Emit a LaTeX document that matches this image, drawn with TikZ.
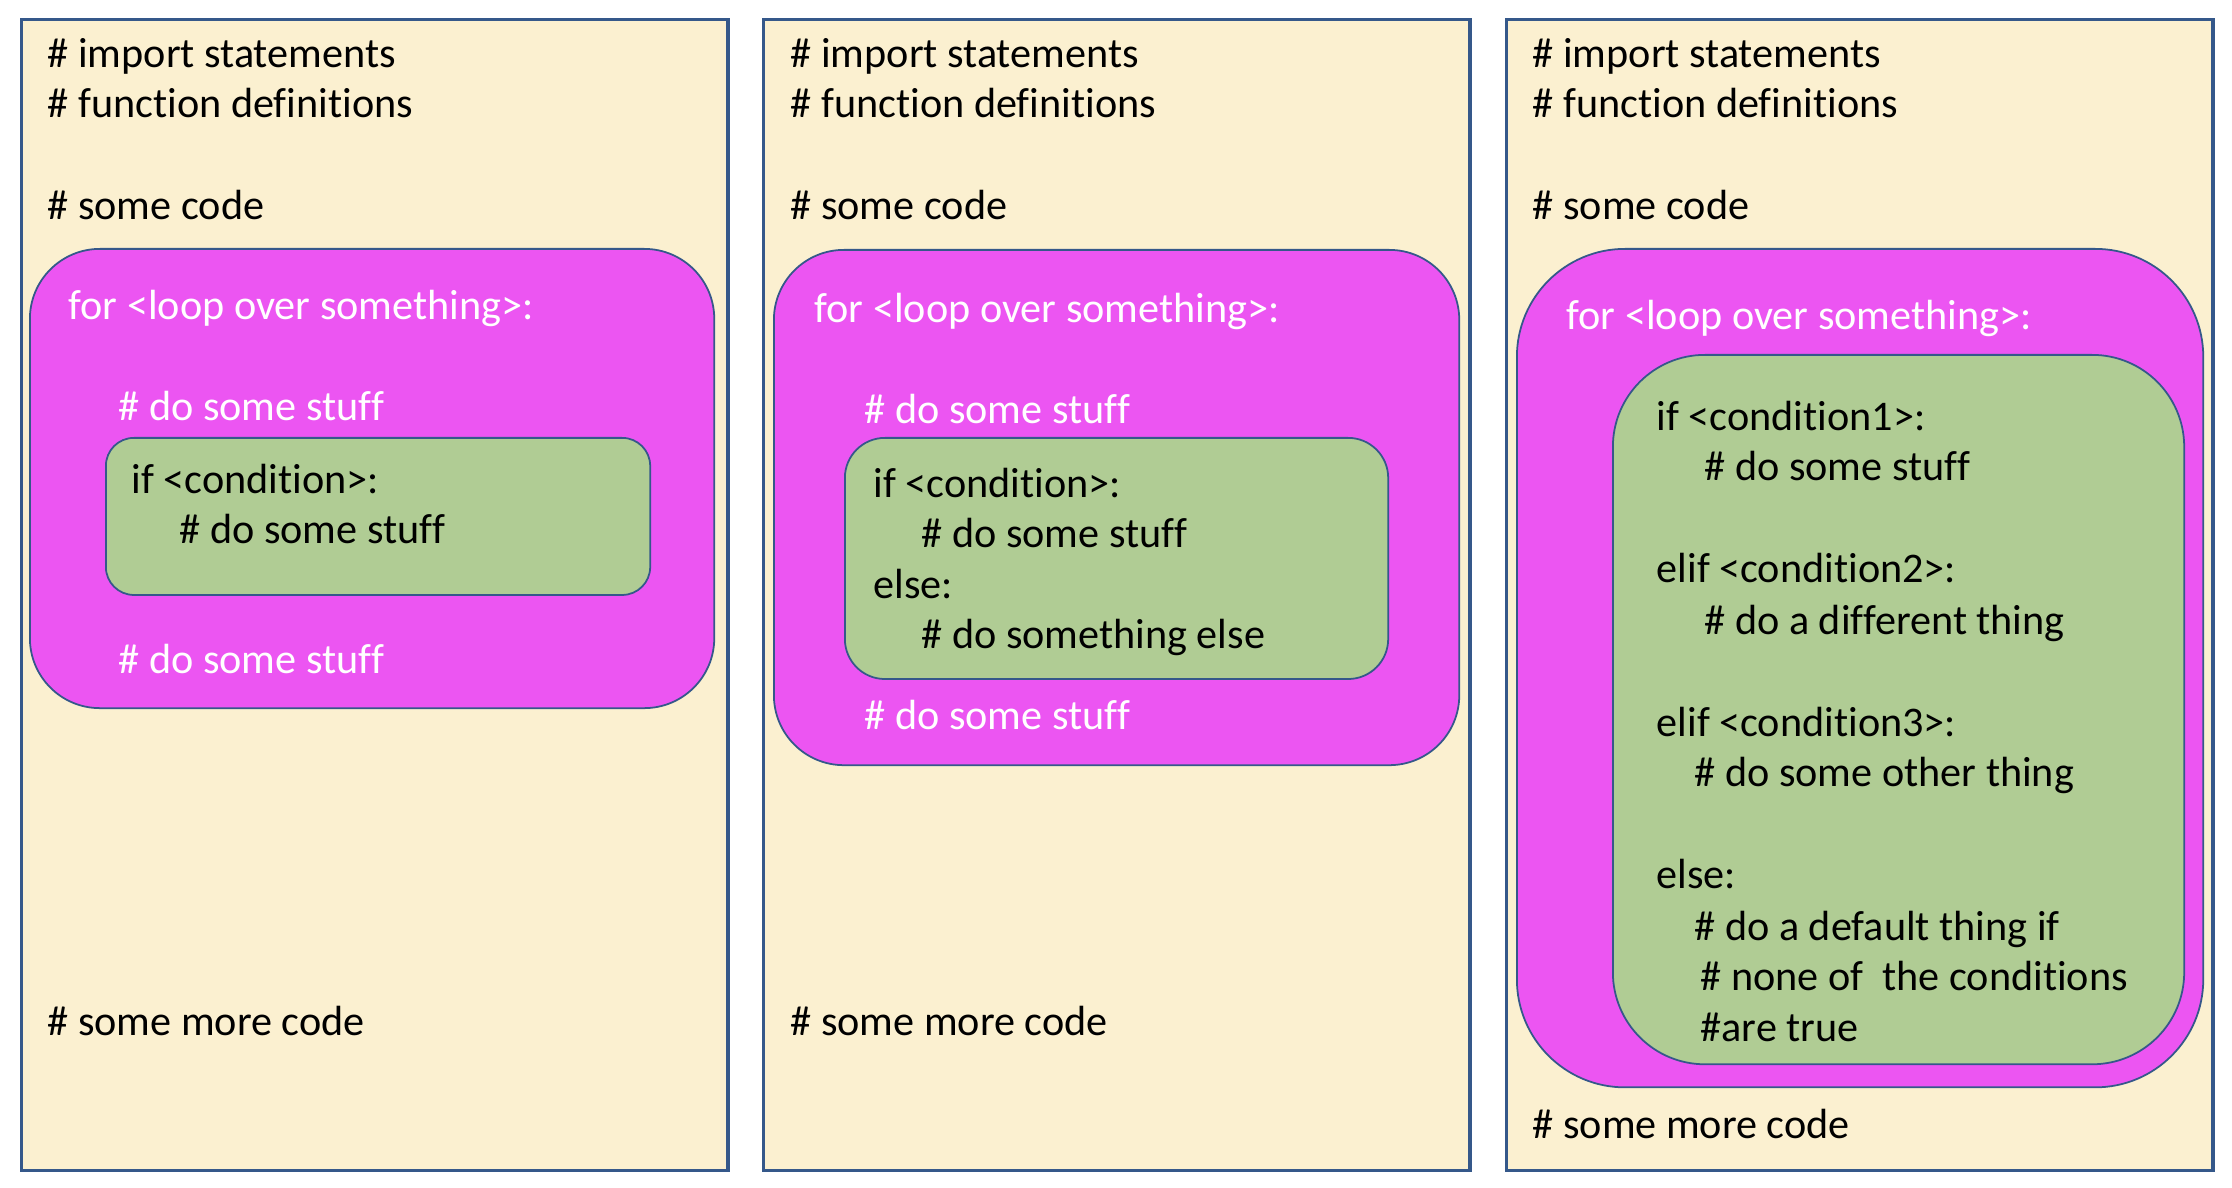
\documentclass[tikz,border=0pt]{standalone}
\usepackage{fontspec}
\setmainfont{Carlito}[Ligatures=NoCommon]
\usepackage{tikz}
\usetikzlibrary{positioning}

\definecolor{paper}{HTML}{FBF0D0}
\definecolor{loopfill}{HTML}{EC55F2}
\definecolor{condfill}{HTML}{B0CC94}
\definecolor{edge}{HTML}{35588A}

\begin{document}
\begin{tikzpicture}[%
    x=0.01cm, y=-0.01cm,
    panel/.style={rectangle, draw=edge, fill=paper, line width=0.9pt, anchor=north west, minimum width=7.06cm, minimum height=11.5cm},
    loopbox/.style={rectangle, draw=edge, fill=loopfill, line width=0.5pt, anchor=north west},
    condbox/.style={rectangle, draw=edge, fill=condfill, line width=0.5pt, anchor=north west},
    code/.style={anchor=west, inner sep=0pt, yshift=-0.035cm, text height=0.3cm, text depth=0.1cm, font=\fontsize{12}{14}\selectfont},
    loopcode/.style={code, text=white}
]
\useasboundingbox (0,0) rectangle (2232,1188);

% panels
\node[panel] (panelA) at (20,18) {};
\node[panel] (panelB) at (762,18) {};
\node[panel] (panelC) at (1505,18) {};

% first panel
\node[code] (importA) at (47,54) {\# import statements};
\node[code] (funcA) at (47,104) {\# function definitions};
\node[code] (someA) at (47,206) {\# some code};
\node[loopbox, rounded corners=0.7cm, minimum width=6.84cm, minimum height=4.59cm] (loopA) at (29,248) {};
\node[loopcode] (forA) at (68,306) {for <loop over something>:};
\node[loopcode] (stuffA) at (118,407) {\# do some stuff};
\node[condbox, rounded corners=0.28cm, minimum width=5.44cm, minimum height=1.57cm] (condA) at (105,437) {};
\node[code] (ifA) at (131,480) {if <condition>:};
\node[code] (ifstuffA) at (179,530) {\# do some stuff};
\node[loopcode] (afterA) at (118,660) {\# do some stuff};
\node[code] (moreA) at (47,1022) {\# some more code};

% second panel
\node[code] (importB) at (790,54) {\# import statements};
\node[code] (funcB) at (790,104) {\# function definitions};
\node[code] (someB) at (790,206) {\# some code};
\node[loopbox, rounded corners=0.7cm, minimum width=6.85cm, minimum height=5.15cm] (loopB) at (773,249) {};
\node[loopcode] (forB) at (814,309) {for <loop over something>:};
\node[loopcode] (stuffB) at (864,410) {\# do some stuff};
\node[condbox, rounded corners=0.4cm, minimum width=5.43cm, minimum height=2.41cm] (condB) at (844,437) {};
\node[code] (ifB) at (873,484) {if <condition>:};
\node[code] (ifstuffB) at (921,534) {\# do some stuff};
\node[code] (elseB) at (873,585) {else:};
\node[code] (elsestuffB) at (921,635) {\# do something else};
\node[loopcode] (afterB) at (864,716) {\# do some stuff};
\node[code] (moreB) at (790,1022) {\# some more code};

% third panel
\node[code] (importC) at (1532,54) {\# import statements};
\node[code] (funcC) at (1532,104) {\# function definitions};
\node[code] (someC) at (1532,206) {\# some code};
\node[loopbox, rounded corners=1.08cm, minimum width=6.86cm, minimum height=8.38cm] (loopC) at (1516,248) {};
\node[loopcode] (forC) at (1566,316) {for <loop over something>:};
\node[condbox, rounded corners=0.92cm, minimum width=5.71cm, minimum height=7.09cm] (condC) at (1612,354) {};
\node[code] (ifC) at (1656,417) {if <condition1>:};
\node[code] (ifstuffC) at (1704,467) {\# do some stuff};
\node[code] (elifC) at (1656,569) {elif <condition2>:};
\node[code] (elifstuffC) at (1704,621) {\# do a different thing};
\node[code] (elifbC) at (1656,723) {elif <condition3>:};
\node[code] (elifbstuffC) at (1694,773) {\# do some other thing};
\node[code] (elseC) at (1656,875) {else:};
\node[code] (defaultC) at (1694,927) {\# do a default thing if};
\node[code] (noneC) at (1700,977) {\# none of~ the conditions};
\node[code] (trueC) at (1700,1028) {\#are true};
\node[code] (moreC) at (1532,1125) {\# some more code};

\end{tikzpicture}
\end{document}
